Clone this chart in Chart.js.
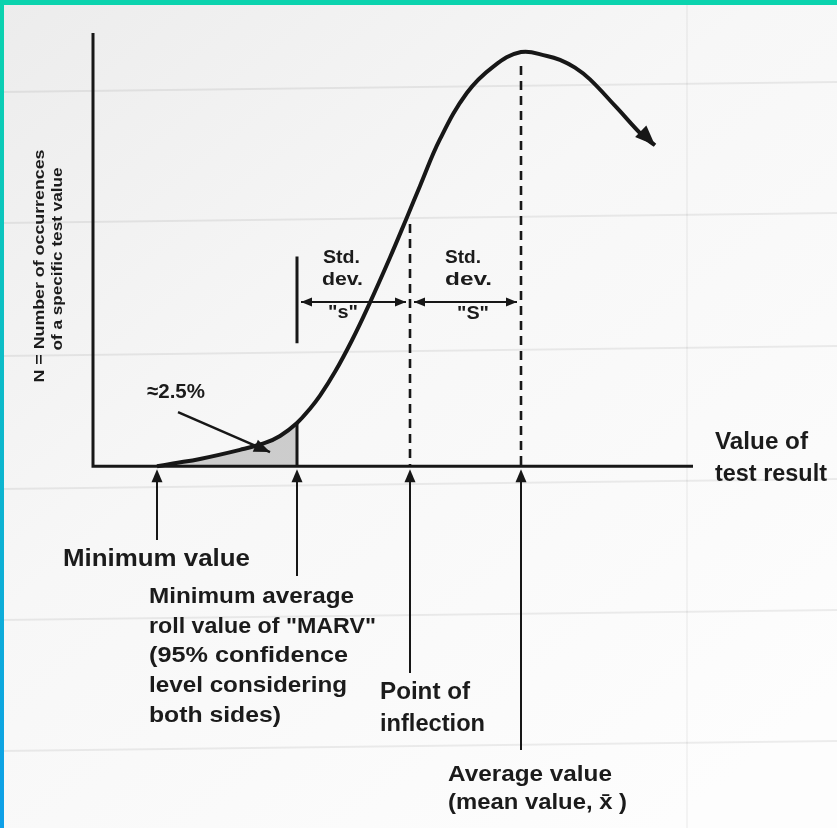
<!DOCTYPE html>
<html>
<head>
<meta charset="utf-8">
<script src="https://cdn.jsdelivr.net/npm/chart.js@4/dist/chart.umd.min.js"></script>
<style>
  html, body { margin: 0; padding: 0; background: #fff; }
  #wrap { position: relative; width: 837px; height: 828px; overflow: hidden; }
  #wrap canvas { position: absolute; left: 0; top: 0; }
  .bar-top { position: absolute; left: 0; top: 0; width: 837px; height: 5px; background: #0bd3ae; }
  .bar-left { position: absolute; left: 0; top: 0; width: 4px; height: 828px; background: linear-gradient(#0bd3ae, #0e9fe8); }
</style>
</head>
<body>
<div id="wrap">
  <canvas id="chart" width="837" height="828"></canvas>
  <div class="bar-top"></div>
  <div class="bar-left"></div>
</div>
<script>
// Value of test result (x) and number of occurrences of that value (y)
const curveX = [12.8, 16, 21.4, 29.4, 34.4, 37.4, 40.8, 43.4, 45.4, 48.4, 51.8, 55, 59.4, 62.8, 65.4, 69.4, 74.8, 80, 85.6, 90.8, 93.4, 96.4, 99.4, 104.8, 110, 112.4];
const curveY = [0, 0.65, 1.7, 3.8, 5.4, 7.0, 10.0, 13.3, 16.3, 21.8, 29.1, 36.8, 48.2, 57.5, 64.7, 75.5, 86.2, 92.2, 95.6, 94.7, 93.8, 92.0, 89.3, 82.7, 76.2, 74.1];

// Reference values marked along the x axis
const minimumValue = 12.8;
const marvValue = 40.8;
const inflectionValue = 63.4;
const meanValue = 85.6;

// Text
const yTitle = ['N = Number of occurrences', 'of a specific test value'];
const xTitle = ['Value of', 'test result'];
const tailLabel = '\u22482.5%';
const sdLabel = ['Std.', 'dev.'];
const sdSymbols = ['"s"', '"S"'];
const minLabel = ['Minimum value'];
const marvLabel = ['Minimum average', 'roll value of "MARV"', '(95% confidence', 'level considering', 'both sides)'];
const inflectionLabel = ['Point of', 'inflection'];
const meanLabel = ['Average value', '(mean value, x\u0304 )'];

const curvePoints = curveX.map((x, i) => ({ x, y: curveY[i] }));
const tailPoints = curvePoints.filter(p => p.x <= marvValue);

const INK = '#171717';
const FONT = '"Liberation Sans", Arial, sans-serif';

function curveAt(x) {
  for (let i = 1; i < curveX.length; i++) {
    if (x <= curveX[i]) {
      const t = (x - curveX[i - 1]) / (curveX[i] - curveX[i - 1]);
      return curveY[i - 1] + t * (curveY[i] - curveY[i - 1]);
    }
  }
  return curveY[curveY.length - 1];
}

function arrowHead(ctx, fx, fy, tx, ty, len, half) {
  const a = Math.atan2(ty - fy, tx - fx);
  ctx.beginPath();
  ctx.moveTo(tx, ty);
  ctx.lineTo(tx - len * Math.cos(a) + half * Math.sin(a), ty - len * Math.sin(a) - half * Math.cos(a));
  ctx.lineTo(tx - len * Math.cos(a) - half * Math.sin(a), ty - len * Math.sin(a) + half * Math.cos(a));
  ctx.closePath();
  ctx.fill();
}

// Bold text stretched or squeezed to a given width
function fitText(ctx, str, x, cy, size, width, align) {
  ctx.save();
  ctx.font = 'bold ' + size + 'px ' + FONT;
  ctx.textBaseline = 'middle';
  ctx.textAlign = 'left';
  const w = ctx.measureText(str).width;
  const target = width || w;
  const left = align === 'center' ? x - target / 2 : (align === 'right' ? x - target : x);
  ctx.translate(left, cy);
  ctx.scale(target / w, 1);
  ctx.fillText(str, 0, 0);
  ctx.restore();
}

const paperPlugin = {
  id: 'paper',
  beforeDraw(chart) {
    const ctx = chart.ctx;
    const W = chart.width, H = chart.height;
    ctx.save();
    const g = ctx.createLinearGradient(0, 0, W * 0.8, H);
    g.addColorStop(0, '#ececec');
    g.addColorStop(0.45, '#f7f7f7');
    g.addColorStop(1, '#fdfdfd');
    ctx.fillStyle = g;
    ctx.fillRect(0, 0, W, H);
    // ruled lines of the sheet
    ctx.strokeStyle = 'rgba(0,0,0,0.065)';
    ctx.lineWidth = 2;
    [92, 223, 356, 489, 620, 751].forEach(y => {
      ctx.beginPath();
      ctx.moveTo(0, y);
      ctx.lineTo(W, y - 10);
      ctx.stroke();
    });
    ctx.strokeStyle = 'rgba(0,0,0,0.04)';
    ctx.beginPath();
    ctx.moveTo(687, 0);
    ctx.lineTo(687, H);
    ctx.stroke();
    ctx.restore();
  }
};

const notesPlugin = {
  id: 'notes',
  afterDatasetsDraw(chart) {
    const ctx = chart.ctx;
    const xs = chart.scales.x, ys = chart.scales.y;
    const X = v => xs.getPixelForValue(v);
    const Y = v => ys.getPixelForValue(v);
    const y0 = Y(0);
    ctx.save();
    ctx.strokeStyle = INK;
    ctx.fillStyle = INK;

    // axes
    ctx.lineWidth = 3;
    ctx.beginPath();
    ctx.moveTo(X(0), Y(ys.max));
    ctx.lineTo(X(0), y0);
    ctx.lineTo(X(xs.max), y0);
    ctx.stroke();

    // arrowhead at the end of the curve
    const n = curveX.length;
    arrowHead(ctx, X(curveX[n - 3]), Y(curveY[n - 3]), X(curveX[n - 1]), Y(curveY[n - 1]), 20, 8);

    // dashed guides at the inflection point and the mean
    ctx.lineWidth = 2.6;
    ctx.setLineDash([9, 6]);
    [inflectionValue, meanValue].forEach(v => {
      ctx.beginPath();
      ctx.moveTo(X(v), Y(curveAt(v)) + 14);
      ctx.lineTo(X(v), y0);
      ctx.stroke();
    });
    ctx.setLineDash([]);

    // MARV boundary and standard deviation bar
    const sdRow = 37.9;
    ctx.lineWidth = 3;
    ctx.beginPath();
    ctx.moveTo(X(marvValue), Y(curveAt(marvValue)));
    ctx.lineTo(X(marvValue), y0);
    ctx.moveTo(X(marvValue), Y(sdRow + 10.5));
    ctx.lineTo(X(marvValue), Y(sdRow - 9.5));
    ctx.stroke();

    ctx.lineWidth = 2;
    const r = Y(sdRow);
    [[marvValue, inflectionValue], [inflectionValue, meanValue]].forEach(([a, b]) => {
      const xa = X(a) + 4, xb = X(b) - 4;
      ctx.beginPath();
      ctx.moveTo(xa, r);
      ctx.lineTo(xb, r);
      ctx.stroke();
      arrowHead(ctx, xb, r, xa, r, 11, 4.5);
      arrowHead(ctx, xa, r, xb, r, 11, 4.5);
    });

    // pointer to the shaded tail
    const pFrom = { x: 17, y: 12.5 }, pTo = { x: 35.4, y: 3.3 };
    ctx.lineWidth = 2.5;
    ctx.beginPath();
    ctx.moveTo(X(pFrom.x), Y(pFrom.y));
    ctx.lineTo(X(pTo.x), Y(pTo.y));
    ctx.stroke();
    arrowHead(ctx, X(pFrom.x), Y(pFrom.y), X(pTo.x), Y(pTo.y), 16, 6.5);

    // arrows from the labels up to the axis
    ctx.lineWidth = 2;
    [[minimumValue, 540], [marvValue, 576], [inflectionValue, 673], [meanValue, 750]].forEach(([v, bottom]) => {
      const px = X(v);
      ctx.beginPath();
      ctx.moveTo(px, bottom);
      ctx.lineTo(px, y0 + 10);
      ctx.stroke();
      arrowHead(ctx, px, bottom, px, y0 + 3, 13, 5.5);
    });

    // labels
    ctx.fillStyle = '#1b1b1b';
    fitText(ctx, tailLabel, 205, 392, 21, 58, 'right');

    fitText(ctx, sdLabel[0], 323, 258, 19, 37);
    fitText(ctx, sdLabel[1], 322, 280, 19, 41);
    fitText(ctx, sdLabel[0], 445, 258, 19, 36);
    fitText(ctx, sdLabel[1], 445, 280, 19, 47);
    fitText(ctx, sdSymbols[0], 343, 313, 18, 30, 'center');
    fitText(ctx, sdSymbols[1], 473, 314, 18, 32, 'center');

    fitText(ctx, xTitle[0], 715, 443, 23, 93);
    fitText(ctx, xTitle[1], 715, 475, 23, 112);

    fitText(ctx, minLabel[0], 63, 560, 23, 187);
    const marvW = [205, 227, 199, 198, 132];
    marvLabel.forEach((t, i) => fitText(ctx, t, 149, 597 + i * 29.7, 22, marvW[i]));
    fitText(ctx, inflectionLabel[0], 380, 693, 23, 90);
    fitText(ctx, inflectionLabel[1], 380, 725, 23, 105);
    fitText(ctx, meanLabel[0], 448, 775, 22, 164);
    fitText(ctx, meanLabel[1], 448, 803, 22, 179);

    // rotated y-axis title
    ctx.save();
    ctx.translate(40, 266);
    ctx.rotate(-Math.PI / 2);
    fitText(ctx, yTitle[0], 0, 0, 14, 233, 'center');
    ctx.restore();
    ctx.save();
    ctx.translate(58, 259);
    ctx.rotate(-Math.PI / 2);
    fitText(ctx, yTitle[1], 0, 0, 14, 183, 'center');
    ctx.restore();

    ctx.restore();
  }
};

new Chart(document.getElementById('chart'), {
  type: 'scatter',
  data: {
    datasets: [
      {
        label: 'curve',
        data: curvePoints,
        showLine: true,
        borderColor: INK,
        borderWidth: 4,
        pointRadius: 0,
        tension: 0.4,
        fill: false,
        order: 1
      },
      {
        label: 'tail',
        data: tailPoints,
        showLine: true,
        borderWidth: 0,
        borderColor: 'rgba(0,0,0,0)',
        backgroundColor: 'rgba(95,95,95,0.28)',
        pointRadius: 0,
        tension: 0.4,
        fill: 'origin',
        order: 2
      }
    ]
  },
  options: {
    responsive: false,
    animation: false,
    devicePixelRatio: 1,
    events: [],
    layout: { padding: { left: 93, right: 144, top: 33, bottom: 2 } },
    scales: {
      x: { type: 'linear', min: 0, max: 120, display: false },
      y: { type: 'linear', min: -83, max: 100, display: false }
    },
    plugins: {
      legend: { display: false },
      tooltip: { enabled: false }
    }
  },
  plugins: [paperPlugin, notesPlugin]
});
</script>
</body>
</html>
